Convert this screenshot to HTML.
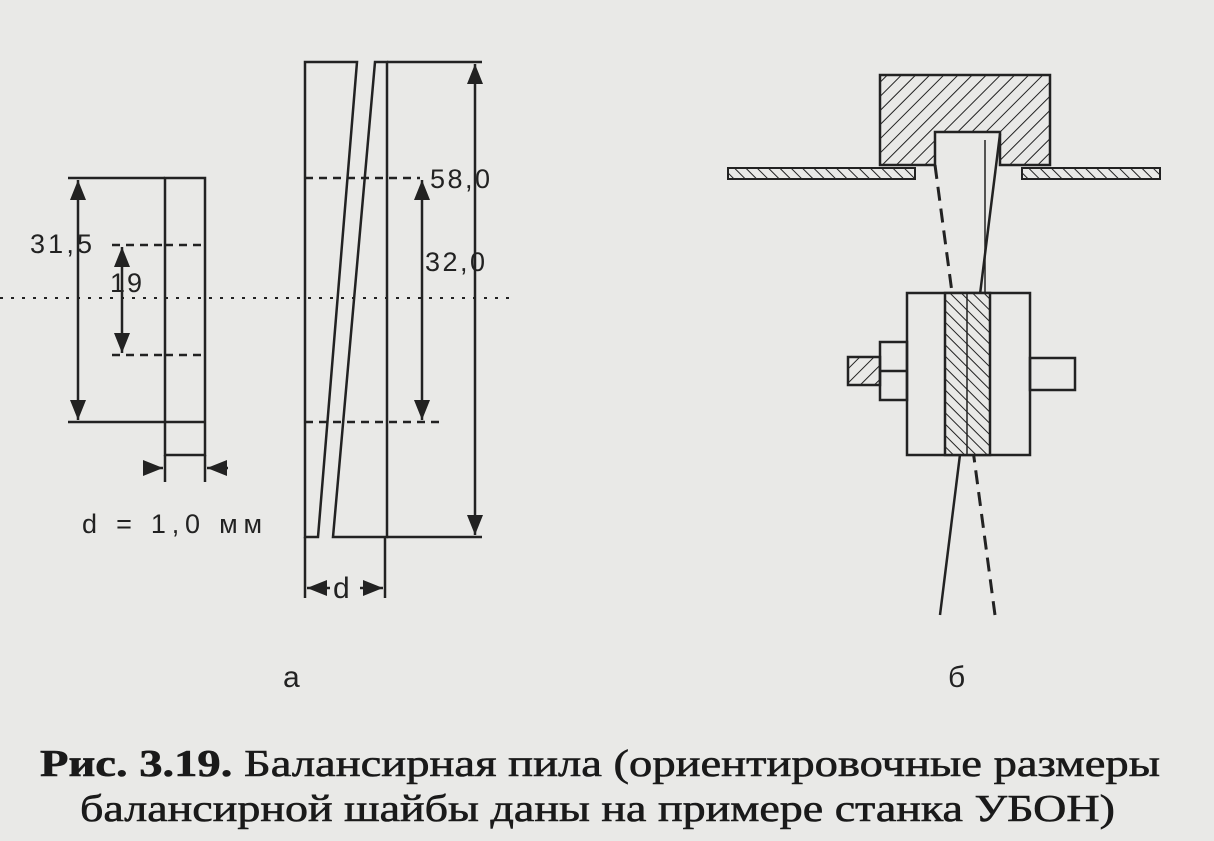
<!DOCTYPE html>
<html><head><meta charset="utf-8"><style>
html,body{margin:0;padding:0;background:#e9e9e7;}
svg{display:block}
</style></head><body>
<svg width="1214" height="841" viewBox="0 0 1214 841" xmlns="http://www.w3.org/2000/svg">
<defs>
<pattern id="h" width="10" height="10" patternUnits="userSpaceOnUse" patternTransform="rotate(45)">
<rect width="10" height="10" fill="#e9e9e7"/><line x1="0" y1="0" x2="0" y2="10" stroke="#222" stroke-width="2"/></pattern>
<pattern id="h2" width="8" height="8" patternUnits="userSpaceOnUse" patternTransform="rotate(-45)">
<rect width="8" height="8" fill="#e9e9e7"/><line x1="0" y1="0" x2="0" y2="8" stroke="#222" stroke-width="2"/></pattern>
<marker id="a" viewBox="0 0 10 10" refX="10" refY="5" markerWidth="8" markerHeight="8" orient="auto-start-reverse"><path d="M0,1 L10,5 L0,9 z" fill="#222"/></marker>
</defs>
<rect width="1214" height="841" fill="#e9e9e7"/>
<g stroke="#222" stroke-width="2.5" fill="none">
<rect x="165" y="178" width="40" height="277"/>
<line x1="68" y1="178" x2="165" y2="178"/>
<line x1="68" y1="422" x2="205" y2="422"/>
<line x1="165" y1="245" x2="205" y2="245" stroke-dasharray="8,6"/>
<line x1="165" y1="355" x2="205" y2="355" stroke-dasharray="8,6"/>
<line x1="112" y1="245" x2="165" y2="245" stroke-dasharray="8,6"/>
<line x1="112" y1="355" x2="165" y2="355" stroke-dasharray="8,6"/>
<line x1="78" y1="180" x2="78" y2="420" marker-start="url(#a)" marker-end="url(#a)"/>
<line x1="122" y1="247" x2="122" y2="353" marker-start="url(#a)" marker-end="url(#a)"/>
<line x1="0" y1="298" x2="510" y2="298" stroke-dasharray="3,8" stroke-width="2"/>
<line x1="165" y1="455" x2="165" y2="482"/>
<line x1="205" y1="455" x2="205" y2="482"/>
<line x1="145" y1="468" x2="163" y2="468" marker-end="url(#a)"/>
<line x1="228" y1="468" x2="207" y2="468" marker-end="url(#a)"/>
<polygon points="305,62 357,62 318,537 305,537"/>
<polygon points="375,62 387,62 387,537 333,537"/>
<line x1="387" y1="62" x2="482" y2="62"/>
<line x1="387" y1="537" x2="482" y2="537"/>
<line x1="475" y1="64" x2="475" y2="535" marker-start="url(#a)" marker-end="url(#a)"/>
<line x1="305" y1="178" x2="420" y2="178" stroke-dasharray="8,6"/>
<line x1="305" y1="422" x2="440" y2="422" stroke-dasharray="8,6"/>
<line x1="422" y1="180" x2="422" y2="420" marker-start="url(#a)" marker-end="url(#a)"/>
<line x1="305" y1="537" x2="305" y2="598"/>
<line x1="385" y1="537" x2="385" y2="598"/>
<line x1="307" y1="588" x2="330" y2="588" marker-start="url(#a)"/>
<line x1="360" y1="588" x2="383" y2="588" marker-end="url(#a)"/>
<path d="M880,75 H1050 V165 H1000 V132 H935 V165 H880 Z" fill="url(#h)"/>
<rect x="728" y="168" width="187" height="11" fill="url(#h2)" stroke-width="2"/>
<rect x="1022" y="168" width="138" height="11" fill="url(#h2)" stroke-width="2"/>
<line x1="1000" y1="134" x2="940" y2="615"/>
<line x1="985" y1="140" x2="985" y2="293" stroke-width="1.5"/>
<line x1="935" y1="165" x2="995" y2="615" stroke-dasharray="14,8" stroke-width="3"/>
<rect x="907" y="293" width="123" height="162" fill="#e9e9e7"/>
<rect x="945" y="293" width="45" height="162" fill="url(#h2)"/>
<line x1="967" y1="293" x2="967" y2="455" stroke-width="1.5"/>
<rect x="848" y="357" width="32" height="28" fill="url(#h)"/>
<rect x="880" y="342" width="27" height="58"/>
<line x1="880" y1="371" x2="907" y2="371"/>
<rect x="1030" y="358" width="45" height="32"/>
</g>
<g font-family="Liberation Sans, sans-serif" fill="#222" font-size="27">
<text x="30" y="253" textLength="62">31,5</text>
<text x="110" y="292" textLength="32">19</text>
<text x="82" y="533" textLength="180">d = 1,0 мм</text>
<text x="430" y="188" textLength="60">58,0</text>
<text x="425" y="271" textLength="60">32,0</text>
<text x="333" y="598" font-size="30">d</text>
<text x="283" y="687" font-size="30">а</text>
<text x="948" y="687" font-size="30">б</text>
</g>
<g font-family="Liberation Serif, serif" fill="#1a1a1a" font-size="38" stroke="#1a1a1a" stroke-width="0.6">
<text x="40" y="776" textLength="1120" lengthAdjust="spacingAndGlyphs"><tspan font-weight="bold">Рис. 3.19.</tspan> Балансирная пила (ориентировочные размеры</text>
<text x="80" y="821" textLength="1035" lengthAdjust="spacingAndGlyphs">балансирной шайбы даны на примере станка УБОН)</text>
</g>
</svg>
</body></html>
